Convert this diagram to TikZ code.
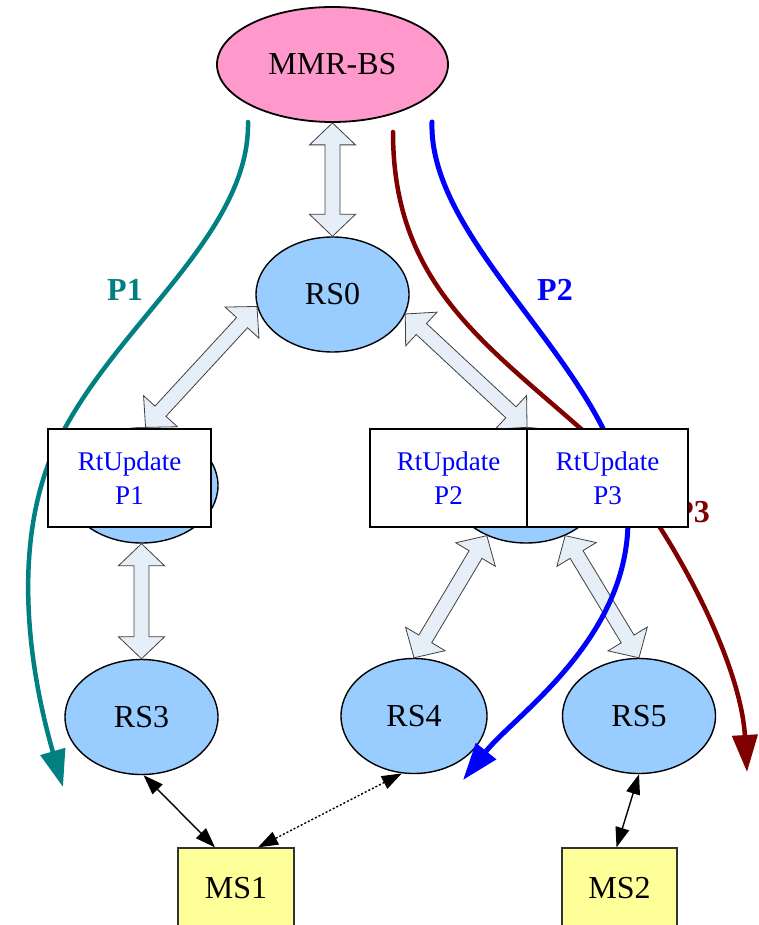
\documentclass[tikz,border=0pt]{standalone}
\usepackage{fontspec}
\setmainfont{Liberation Serif}
\usetikzlibrary{shapes.geometric,arrows.meta,calc}
\definecolor{pinkfill}{HTML}{FF99CC}
\definecolor{rsfill}{HTML}{99CCFF}
\definecolor{msfill}{HTML}{FFFF99}
\definecolor{arrfill}{HTML}{E6EEF8}
\definecolor{tealc}{HTML}{008080}
\definecolor{bluec}{HTML}{0000FF}
\definecolor{redc}{HTML}{800000}
\newcommand\blockarr[2]{%
  \draw[blockarrow] let \p1=(#1), \p2=(#2), \n1={atan2(\y2-\y1,\x2-\x1)} in
   (\p1) -- ($(\p1)+(\n1:22pt)+(\n1+90:23pt)$) -- ($(\p1)+(\n1:22pt)+(\n1+90:7.5pt)$)
   -- ($(\p2)+(\n1+180:22pt)+(\n1+90:7.5pt)$) -- ($(\p2)+(\n1+180:22pt)+(\n1+90:23pt)$)
   -- (\p2) -- ($(\p2)+(\n1+180:22pt)+(\n1-90:23pt)$) -- ($(\p2)+(\n1+180:22pt)+(\n1-90:7.5pt)$)
   -- ($(\p1)+(\n1:22pt)+(\n1-90:7.5pt)$) -- ($(\p1)+(\n1:22pt)+(\n1-90:23pt)$) -- cycle;}
\begin{document}
\begin{tikzpicture}[x=1pt,y=-1pt,
 rs/.style={ellipse, draw, line width=1.4pt, fill=rsfill, minimum width=153pt, minimum height=115pt, inner sep=0pt, font=\fontsize{32}{38}\selectfont},
 rtbox/.style={rectangle, draw, line width=2.4pt, fill=white, minimum height=98pt, inner sep=0pt, text=bluec, align=center, font=\fontsize{27}{34}\selectfont},
 msbox/.style={rectangle, draw=black!80, line width=1.3pt, fill=msfill, minimum width=116pt, minimum height=80pt, inner sep=0pt, font=\fontsize{32}{38}\selectfont},
 blockarrow/.style={draw=black!75, line width=0.8pt, fill=arrfill, line join=miter},
 pcurve/.style={line width=4.5pt, line cap=round, -{Triangle[length=37pt,width=25pt]}},
 plabel/.style={font=\fontsize{32}{38}\selectfont\bfseries},
 link/.style={line width=1.4pt, {Triangle[length=20pt,width=14pt]}-{Triangle[length=20pt,width=14pt]}}
]
\useasboundingbox (0,0) rectangle (758,925);
\clip (0,0) rectangle (758,925);
% nodes
\node[ellipse, draw, line width=1.8pt, fill=pinkfill, minimum width=231pt, minimum height=115pt, inner sep=0pt, font=\fontsize{32}{38}\selectfont] (BS) at (332.5,64.5) {MMR-BS};
\node[rs] (RS0) at (332.5,294.5) {RS0};
\node[rs] (RS1) at (141.5,485.5) {};
\node[rs] (RS2) at (526,485.5) {};
\node[rs] (RS3) at (141.5,717) {RS3};
\node[rs, minimum width=146pt] (RS4) at (414,716) {RS4};
\node[rs] (RS5) at (639,716) {RS5};
% block arrows
\blockarr{BS.south}{RS0.north}
\blockarr{RS0.189}{RS1.86}
\blockarr{RS0.345}{RS2.89}
\blockarr{RS1.south}{RS3.north}
\blockarr{RS2.232}{RS4.north}
\blockarr{RS2.308}{RS5.north}
% path curves
\coordinate (p1s) at (248,122);
\coordinate (p1m) at (65,428);
\coordinate (p1e) at (63,787);
\coordinate (p2s) at (432,122);
\coordinate (p2m) at (628,520);
\coordinate (p2e) at (463,780);
\coordinate (p3s) at (393,132);
\coordinate (p3m) at (580,428);
\coordinate (p3e) at (747,772);
\draw[pcurve, tealc] (p1s) .. controls (250,230) and (125,318) .. (p1m)
  .. controls (2,540) and (35,690) .. (p1e);
\draw[pcurve, redc] (p3s) .. controls (393,280) and (480,340) .. (p3m)
  .. controls (650,490) and (740,650) .. (p3e);
\draw[pcurve, bluec, line width=5pt] (p2s) .. controls (428,250) and (628,380) .. (p2m)
  .. controls (628,640) and (515,715) .. (p2e);
\node[plabel, text=tealc] (L1) at (125,290) {P1};
\node[plabel, text=bluec] (L2) at (555,290) {P2};
\node[plabel, text=redc] (L3) at (692,512) {P3};
% RtUpdate boxes
\node[rtbox, minimum width=163pt] (U1) at (129.5,478) {RtUpdate\\P1};
\node[rtbox, minimum width=157pt] (U2) at (448.5,478) {RtUpdate\\P2};
\node[rtbox, minimum width=161pt] (U3) at (607.5,478) {RtUpdate\\P3};
% mobile stations
\node[msbox] (MS1) at (236,888) {MS1};
\node[msbox, minimum width=115pt] (MS2) at (619.5,888) {MS2};
\draw[link] (RS3.272) -- ([xshift=-21pt]MS1.north);
\draw[link, dash pattern=on 2pt off 2pt] (RS4.258) -- ([xshift=22pt]MS1.north);
\draw[link] (RS5.south) -- ([xshift=-3pt]MS2.north);
\end{tikzpicture}
\end{document}
